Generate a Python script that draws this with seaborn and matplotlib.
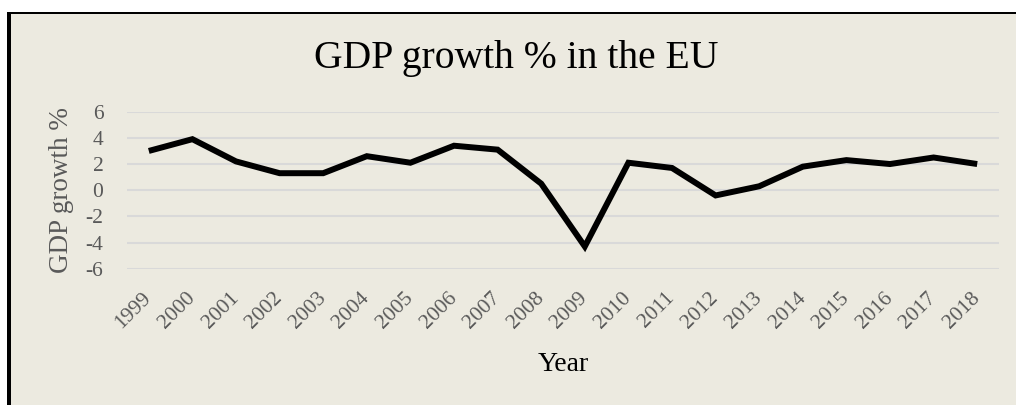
import matplotlib
matplotlib.use("Agg")
import matplotlib.pyplot as plt
import seaborn as sns
import pandas as pd
from matplotlib.patches import Rectangle

years = [1999, 2000, 2001, 2002, 2003, 2004, 2005, 2006, 2007, 2008,
         2009, 2010, 2011, 2012, 2013, 2014, 2015, 2016, 2017, 2018]
growth = [3.0, 3.9, 2.2, 1.3, 1.3, 2.6, 2.1, 3.4, 3.1, 0.5,
          -4.3, 2.1, 1.7, -0.4, 0.3, 1.8, 2.3, 2.0, 2.5, 2.0]
y_ticks = [-6, -4, -2, 0, 2, 4, 6]
title = "GDP growth % in the EU"
x_label = "Year"
y_label = "GDP growth %"

df = pd.DataFrame({"year": years, "growth": growth})

sns.set_theme(style="white")
plt.rcParams["font.family"] = ["Liberation Serif", "DejaVu Serif"]

BG = "#ECEAE0"
W, H = 1016, 405
fig = plt.figure(figsize=(W / 100, H / 100), dpi=100, facecolor="white")

# frame: black borders (left, top) and beige fill
fig.patches.append(Rectangle((7 / W, 0), 1, 1 - 12 / H, transform=fig.transFigure,
                             facecolor="black", edgecolor="none", zorder=-3))
fig.patches.append(Rectangle((11 / W, 0), 1, 1 - 14 / H, transform=fig.transFigure,
                             facecolor=BG, edgecolor="none", zorder=-2))

ax = fig.add_axes([127 / W, 1 - 268.7 / H, (999 - 127) / W, (268.7 - 111.7) / H])
ax.set_facecolor("none")

sns.lineplot(data=df, x="year", y="growth", ax=ax, color="black",
             linewidth=4.3, solid_joinstyle="miter", solid_capstyle="butt", zorder=3)

ax.set_xlim(years[0] - 0.5, years[-1] + 0.5)
ax.set_ylim(-6, 6)
ax.set_yticks(y_ticks)
ax.set_yticklabels([str(v) for v in y_ticks])
ax.set_xticks(years)
ax.set_xticklabels([str(y) for y in years], rotation=45, ha="right", va="center",
                   rotation_mode="anchor")
ax.grid(axis="y", color="#D9D9D9", linewidth=1.5)
ax.grid(axis="x", visible=False)
for s in ax.spines.values():
    s.set_visible(False)
ax.tick_params(axis="y", length=0, pad=17, labelsize=15.5, labelcolor="#595959")
ax.tick_params(axis="x", length=0, pad=19, labelsize=15.5, labelcolor="#595959")

ax.set_xlabel(x_label, fontsize=20, color="black", labelpad=14)
ax.set_ylabel(y_label, fontsize=19.5, color="#595959", labelpad=8)

fig.text(516 / W, 1 - 68 / H, title, ha="center", va="baseline", fontsize=28.5, color="black")

fig.savefig("out.png", dpi=100, facecolor="white")
